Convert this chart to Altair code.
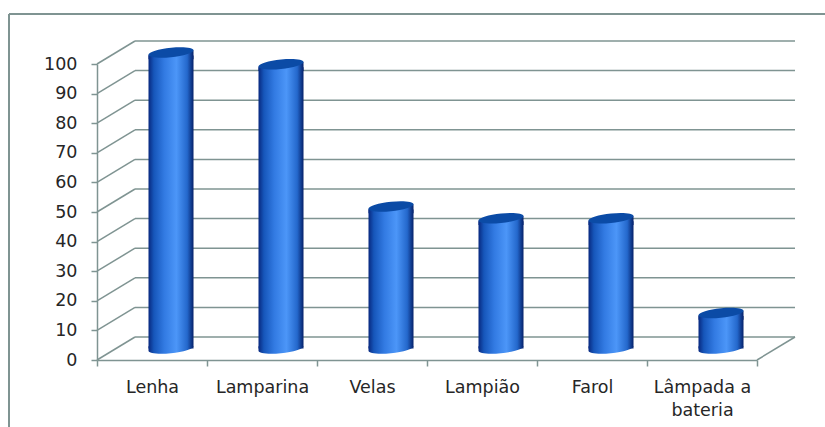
import altair as alt
import pandas as pd

categories = ["Lenha", "Lamparina", "Velas", "Lampião", "Farol", "Lâmpada a bateria"]
values = [100, 96, 48, 44, 44, 12]
grid_levels = [0, 10, 20, 30, 40, 50, 60, 70, 80, 90, 100]

LINE = "#7f9492"
TEXT = "#262626"
FONT = "DejaVu Sans"

# Depth of the fake 3D box, in pixels
DX, DY = 38, -23
BAR_W = 45

bars = pd.DataFrame({"cat": categories, "v": values, "base": [0] * len(values)})
grid = pd.DataFrame({"v": grid_levels})
floor = pd.DataFrame({"v": [0]})

cyl = alt.LinearGradient(
    gradient="linear", x1=0, x2=1, y1=0, y2=0,
    stops=[
        alt.GradientStop(offset=0, color="#08287f"),
        alt.GradientStop(offset=0.12, color="#1656ba"),
        alt.GradientStop(offset=0.35, color="#327ae2"),
        alt.GradientStop(offset=0.62, color="#4c96f8"),
        alt.GradientStop(offset=0.86, color="#2468cc"),
        alt.GradientStop(offset=1, color="#05216a"),
    ],
)

# Cylinder pieces as unit-square symbols: lid, lid shoulder and rounded base
TILTED = "M-1,0.1 A1,0.21 -6 1 1 1,-0.1 A1,0.21 -6 1 1 -1,0.1 Z"
SHOULDER = "M-1,0.1 L1,-0.1 L1,0.3 L-1,0.3 Z"
LOWER = "M-1,0.1 A1,0.21 -6 1 0 1,-0.1 L-1,-0.1 Z"

x_scale = alt.Scale(paddingInner=0, paddingOuter=0)
y_scale = alt.Scale(domain=[0, 100], nice=False)
x_enc = alt.X(
    "cat:N", sort=categories, scale=x_scale, title=None,
    axis=alt.Axis(
        tickBand="extent", labelAngle=0, labelPadding=12, tickSize=6,
        domain=True, domainColor=LINE, tickColor=LINE, domainWidth=1.5, tickWidth=1.5,
        labelColor=TEXT, labelFont=FONT, labelFontSize=17.5, grid=False,
        labelLimit=200, labelLineHeight=23,
        labelExpr="datum.label == 'Lâmpada a bateria' ? ['Lâmpada a', 'bateria'] : datum.label",
    ),
)
y_axis = alt.Axis(
    values=grid_levels, tickSize=6, labelPadding=14,
    domain=True, domainColor=LINE, tickColor=LINE, domainWidth=1.5, tickWidth=1.5,
    labelColor=TEXT, labelFont=FONT, labelFontSize=17.5, grid=False,
)
y_enc = alt.Y("v:Q", scale=y_scale, title=None, axis=y_axis)
y_base = alt.Y("base:Q", scale=y_scale, title=None, axis=y_axis)

# Chart frame: only the top and left edges are drawn
frame_top = alt.Chart(floor).mark_rule(color=LINE, strokeWidth=2).encode(
    x=alt.value(-88), x2=alt.value(728), y=alt.value(-50))
frame_left = alt.Chart(floor).mark_rule(color=LINE, strokeWidth=2).encode(
    x=alt.value(-88), y=alt.value(-50), y2=alt.value(363))

back_grid = alt.Chart(grid).mark_rule(color=LINE, strokeWidth=1.5, yOffset=DY).encode(
    x=alt.value(DX), x2=alt.value(660 + DX), y=y_enc)
side_grid = alt.Chart(grid).mark_rule(color=LINE, strokeWidth=1.5, y2Offset=DY).encode(
    x=alt.value(0), x2=alt.value(DX), y=y_enc, y2=alt.Y2("v:Q"))
floor_edge = alt.Chart(floor).mark_rule(color=LINE, strokeWidth=1.5, y2Offset=DY).encode(
    x=alt.value(660), x2=alt.value(660 + DX), y=y_enc, y2=alt.Y2("v:Q"))

body = alt.Chart(bars).mark_bar(
    color=cyl, size=BAR_W, xOffset=DX / 2, yOffset=DY / 2 + 3, y2Offset=DY / 2
).encode(x=x_enc, y=y_enc, y2=alt.Y2("base:Q"))


def symbol(shape, fill, y):
    return alt.Chart(bars).mark_point(
        shape=shape, size=BAR_W ** 2, filled=True, color=fill, opacity=1,
        xOffset=DX / 2, yOffset=DY / 2, strokeWidth=0,
    ).encode(x=x_enc, y=y)


bottom = symbol(LOWER, cyl, y_base)
shoulder = symbol(SHOULDER, cyl, y_enc)
top = symbol(TILTED, "#0b4ba6", y_enc)

chart = alt.layer(
    frame_top, frame_left, back_grid, side_grid, floor_edge, bottom, body, shoulder, top
).properties(
    width=660, height=296,
    padding={"left": 97, "top": 64, "right": 68, "bottom": 67},
    autosize=alt.AutoSizeParams(type="none"),
    background="white",
).configure_view(stroke=None)

chart.save("out.html", embed_options={"renderer": "svg", "actions": False})
